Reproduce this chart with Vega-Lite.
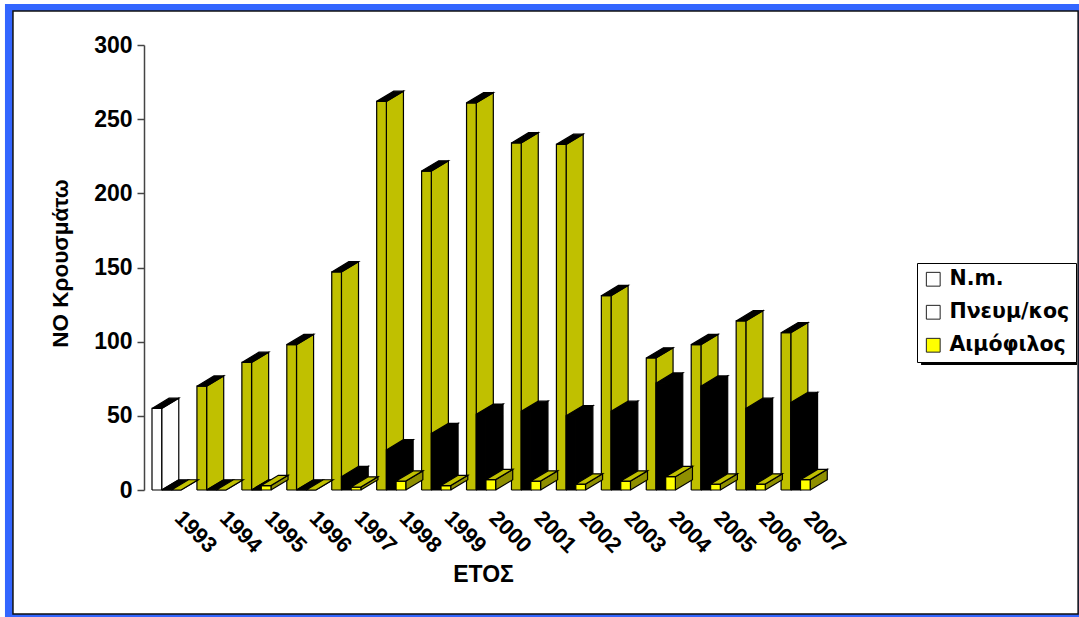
{
  "$schema": "https://vega.github.io/schema/vega-lite/v6.json",
  "autosize": {"type": "none"},
  "padding": {"left": 144, "top": 45, "right": 235, "bottom": 127},
  "width": 700,
  "height": 445,
  "background": "white",
  "config": {"view": {"stroke": null}},
  "data": {
    "values": [
      {"year": 1993, "series": "N.m.", "value": 55},
      {"year": 1994, "series": "N.m.", "value": 70},
      {"year": 1995, "series": "N.m.", "value": 86},
      {"year": 1996, "series": "N.m.", "value": 98},
      {"year": 1997, "series": "N.m.", "value": 147},
      {"year": 1998, "series": "N.m.", "value": 262},
      {"year": 1999, "series": "N.m.", "value": 215},
      {"year": 2000, "series": "N.m.", "value": 261},
      {"year": 2001, "series": "N.m.", "value": 234},
      {"year": 2002, "series": "N.m.", "value": 233},
      {"year": 2003, "series": "N.m.", "value": 131},
      {"year": 2004, "series": "N.m.", "value": 89},
      {"year": 2005, "series": "N.m.", "value": 98},
      {"year": 2006, "series": "N.m.", "value": 114},
      {"year": 2007, "series": "N.m.", "value": 106},
      {"year": 1993, "series": "Πνευμ/κος", "value": 0},
      {"year": 1994, "series": "Πνευμ/κος", "value": 0},
      {"year": 1995, "series": "Πνευμ/κος", "value": 0},
      {"year": 1996, "series": "Πνευμ/κος", "value": 0},
      {"year": 1997, "series": "Πνευμ/κος", "value": 9},
      {"year": 1998, "series": "Πνευμ/κος", "value": 27},
      {"year": 1999, "series": "Πνευμ/κος", "value": 38},
      {"year": 2000, "series": "Πνευμ/κος", "value": 51},
      {"year": 2001, "series": "Πνευμ/κος", "value": 53},
      {"year": 2002, "series": "Πνευμ/κος", "value": 50},
      {"year": 2003, "series": "Πνευμ/κος", "value": 53},
      {"year": 2004, "series": "Πνευμ/κος", "value": 72},
      {"year": 2005, "series": "Πνευμ/κος", "value": 70},
      {"year": 2006, "series": "Πνευμ/κος", "value": 55},
      {"year": 2007, "series": "Πνευμ/κος", "value": 59},
      {"year": 1993, "series": "Αιμόφιλος", "value": 0},
      {"year": 1994, "series": "Αιμόφιλος", "value": 0},
      {"year": 1995, "series": "Αιμόφιλος", "value": 3},
      {"year": 1996, "series": "Αιμόφιλος", "value": 0},
      {"year": 1997, "series": "Αιμόφιλος", "value": 2},
      {"year": 1998, "series": "Αιμόφιλος", "value": 6},
      {"year": 1999, "series": "Αιμόφιλος", "value": 3},
      {"year": 2000, "series": "Αιμόφιλος", "value": 7},
      {"year": 2001, "series": "Αιμόφιλος", "value": 6},
      {"year": 2002, "series": "Αιμόφιλος", "value": 4},
      {"year": 2003, "series": "Αιμόφιλος", "value": 6},
      {"year": 2004, "series": "Αιμόφιλος", "value": 9},
      {"year": 2005, "series": "Αιμόφιλος", "value": 4},
      {"year": 2006, "series": "Αιμόφιλος", "value": 4},
      {"year": 2007, "series": "Αιμόφιλος", "value": 7}
    ]
  },
  "layer": [
    {
      "data": {"values": [{"panel": "frame"}]},
      "mark": {"type": "rect", "fill": "#3366ff", "clip": false},
      "encoding": {
        "x": {"datum": 1989.728, "type": "quantitative", "scale": {"domain": [1992.822, 2008.4], "nice": false, "zero": false}, "axis": {
          "values": [1993,1994,1995,1996,1997,1998,1999,2000,2001,2002,2003,2004,2005,2006,2007],
          "zindex": 1, "grid": false, "domain": false, "ticks": false, "format": "d",
          "labelAngle": 45, "labelAlign": "left", "labelBaseline": "middle", "labelOverlap": false, "labelFlush": false, "labelBound": false,
          "labelOffset": 26, "labelPadding": 24,
          "labelFont": "Liberation Sans", "labelFontWeight": "bold", "labelFontSize": 22, "labelColor": "#000",
          "title": "ΕΤΟΣ", "titleFont": "Liberation Sans", "titleFontWeight": "bold", "titleFontSize": 23, "titleColor": "#000",
          "titleX": 339, "titleY": 91, "titleBaseline": "alphabetic", "titleAlign": "center"
        }},
        "x2": {"datum": 2013.7},
        "y": {"datum": 327.6, "type": "quantitative", "scale": {"domain": [0, 300], "nice": false}, "axis": {
          "values": [0, 50, 100, 150, 200, 250, 300],
          "zindex": 1, "grid": false, "domainColor": "#444", "domainWidth": 1.5, "tickColor": "#444", "tickWidth": 1.5, "tickSize": 7,
          "labelFont": "Liberation Sans", "labelFontWeight": "bold", "labelFontSize": 23, "labelColor": "#000", "labelPadding": 5,
          "title": "ΝΟ Κρουσμάτω", "titleFont": "Liberation Sans", "titleFontWeight": "bold", "titleFontSize": 22.5, "titleColor": "#000",
          "titleX": -72, "titleY": 218, "titleAlign": "center", "titleAngle": -90
        }},
        "y2": {"datum": -86}
      }
    },
    {
      "data": {"values": [{"panel": "inner"}]},
      "mark": {"type": "rect", "fill": "white", "stroke": "#111", "strokeWidth": 1.5, "clip": false},
      "encoding": {
        "x": {"datum": 1989.906, "type": "quantitative"},
        "x2": {"datum": 2013.61},
        "y": {"datum": 322.9, "type": "quantitative"},
        "y2": {"datum": -83.6}
      }
    },
    {
      "data": {"values": [{"panel": "legend shadow"}]},
      "mark": {"type": "rect", "fill": "#000", "clip": false},
      "encoding": {
        "x": {"datum": 2010.115, "type": "quantitative"},
        "x2": {"datum": 2013.587},
        "y": {"datum": 149.7, "type": "quantitative"},
        "y2": {"datum": 84.3}
      }
    },
    {
      "transform": [
        {"calculate": "indexof(['N.m.','Πνευμ/κος','Αιμόφιλος'], datum.series)", "as": "slot"},
        {"calculate": "['side','front','top']", "as": "face"},
        {"flatten": ["face"]},
        {"calculate": "[0,1,2,3,4]", "as": "vertex"},
        {"flatten": ["vertex"]},
        {"calculate": "[0,1,1,0,0][datum.vertex]", "as": "a"},
        {"calculate": "[0,0,1,1,0][datum.vertex]", "as": "b"},
        {"calculate": "datum.face === 'side' ? 1 : datum.a", "as": "u"},
        {"calculate": "datum.face === 'front' ? 0 : (datum.face === 'side' ? datum.a : datum.b)", "as": "v"},
        {"calculate": "datum.face === 'top' ? 1 : datum.b", "as": "h"},
        {"calculate": "datum.year + (datum.slot + datum.u) * 0.2159 + datum.v * 0.38", "as": "px"},
        {"calculate": "datum.h * datum.value + datum.v * 6.9", "as": "py"},
        {"calculate": "datum.year + '-' + datum.slot + '-' + datum.face", "as": "polygon"},
        {"calculate": "datum.slot === 1 ? 'dark' : datum.slot === 0 ? (datum.face === 'top' ? 'dark' : (datum.year === 1993 ? 'blank' : 'body')) : (datum.face === 'top' ? 'body' : (datum.face === 'side' ? 'shade' : 'bright'))", "as": "tone"}
      ],
      "mark": {"type": "line", "stroke": "#000000", "strokeWidth": 1.2, "clip": false, "strokeJoin": "miter"},
      "encoding": {
        "x": {"field": "px", "type": "quantitative"},
        "y": {"field": "py", "type": "quantitative"},
        "detail": {"field": "polygon"},
        "order": {"field": "vertex", "type": "quantitative"},
        "fill": {"field": "tone", "type": "nominal", "legend": null, "scale": {
          "domain": ["blank", "body", "dark", "bright", "shade"],
          "range": ["#ffffff", "#c0c000", "#000000", "#ffff00", "#8f8f00"]
        }}
      }
    },
    {
      "mark": {"type": "point", "filled": true, "opacity": 0, "shape": "square"},
      "encoding": {
        "x": {"field": "year", "type": "quantitative"},
        "y": {"field": "value", "type": "quantitative"},
        "fill": {"field": "series", "type": "nominal", "scale": {
          "domain": ["N.m.", "Πνευμ/κος", "Αιμόφιλος"],
          "range": ["#ffffff", "#ffffff", "#ffff00"]
        }, "legend": {
          "orient": "none", "legendX": 773, "legendY": 218, "title": null,
          "fillColor": "white", "strokeColor": "#000", "padding": 6,
          "symbolType": "square", "symbolSize": 190, "symbolOpacity": 1, "symbolStrokeColor": "#222", "symbolStrokeWidth": 1,
          "labelFont": "DejaVu Sans", "labelFontWeight": "bold", "labelFontSize": 20.5, "labelColor": "#000", "labelOffset": 6, "labelLimit": 200,
          "rowPadding": 12
        }}
      }
    }
  ],
  "resolve": {"scale": {"fill": "independent"}}
}
